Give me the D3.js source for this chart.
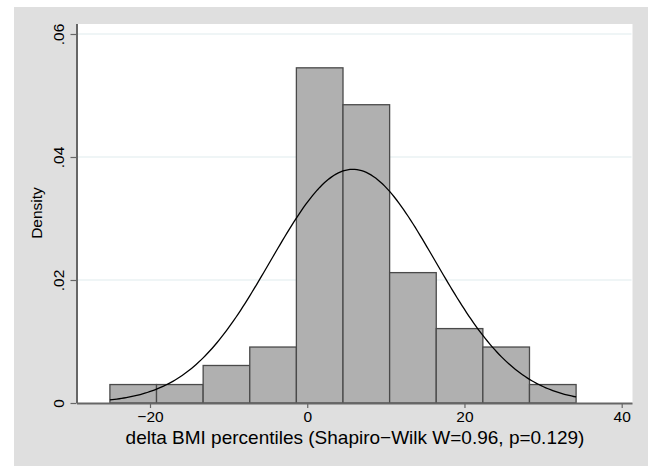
<!DOCTYPE html>
<html><head><meta charset="utf-8">
<script src="https://cdn.jsdelivr.net/npm/d3@7"></script>
<style>body{margin:0;background:#fff}svg{display:block}text{font-family:"Liberation Sans",Arial,sans-serif;fill:#000}</style>
</head><body>
<script>
// Histogram bins (left edges), bin width, density values
const binStart = -25.1;
const binWidth = 5.93;
const densities = [0.0030, 0.0030, 0.0061, 0.0091, 0.0545, 0.0485, 0.0212, 0.0121, 0.0091, 0.0030];
// Normal overlay parameters
const normMean = 5.8;
const normSD = 10.5;
const xTicks = [-20, 0, 20, 40];
const yTicks = [0, 0.02, 0.04, 0.06];
const yTickLabels = ["0", ".02", ".04", ".06"];
const xTitle = "delta BMI percentiles (Shapiro\u2212Wilk W=0.96, p=0.129)";
const yTitle = "Density";

const W = 651, H = 466;
const svg = d3.select("body").append("svg").attr("width", W).attr("height", H);

// outer gray graph region
svg.append("rect").attr("x", 14).attr("y", 7).attr("width", 634).attr("height", 459).attr("fill", "#dfdfdf");
// plot region
const plot = {l: 77, r: 632.5, t: 24, b: 403};
svg.append("rect").attr("x", plot.l).attr("y", plot.t).attr("width", plot.r - plot.l).attr("height", plot.b - plot.t).attr("fill", "#fff");

const x = d3.scaleLinear().domain([-20, 40]).range([150, 621.7]);
const y = d3.scaleLinear().domain([0, 0.06]).range([403, 34]);

// gridlines
svg.append("g").selectAll("line").data(yTicks.filter(d => d > 0)).join("line")
  .attr("x1", plot.l).attr("x2", plot.r - 1).attr("y1", d => y(d)).attr("y2", d => y(d))
  .attr("stroke", "#eaf2f3").attr("stroke-width", 1.5);

// bars
const bins = densities.map((d, i) => ({x0: binStart + i * binWidth, x1: binStart + (i + 1) * binWidth, d}));
svg.append("g").selectAll("rect").data(bins).join("rect")
  .attr("x", b => x(b.x0)).attr("width", b => x(b.x1) - x(b.x0))
  .attr("y", b => y(b.d)).attr("height", b => y(0) - y(b.d))
  .attr("fill", "#b0b0b0").attr("stroke", "#4a4a4a").attr("stroke-width", 1.3);

// normal curve
const xMin = binStart, xMax = binStart + densities.length * binWidth;
const pts = d3.range(0, 201).map(i => {
  const xv = xMin + (xMax - xMin) * i / 200;
  const z = (xv - normMean) / normSD;
  return [xv, Math.exp(-0.5 * z * z) / (normSD * Math.sqrt(2 * Math.PI))];
});
svg.append("path").datum(pts)
  .attr("d", d3.line().x(d => x(d[0])).y(d => y(d[1])))
  .attr("fill", "none").attr("stroke", "#000").attr("stroke-width", 1.3);

// x axis
const xAxis = svg.append("g").attr("transform", `translate(0,${plot.b})`)
  .call(d3.axisBottom(x).tickValues(xTicks).tickSize(5).tickSizeOuter(0)
    .tickFormat(d => d < 0 ? "\u2212" + Math.abs(d) : String(d)));
xAxis.select(".domain").attr("d", `M${plot.l},0.5H${plot.r}`).attr("stroke", "#666").attr("stroke-width", 2);
xAxis.selectAll(".tick line").attr("stroke", "#666").attr("stroke-width", 1.2);
xAxis.selectAll(".tick text").attr("font-size", 15.5).attr("y", 8).attr("font-family", "Liberation Sans, Arial, sans-serif");

// y axis
const yAxis = svg.append("g").attr("transform", `translate(${plot.l - 0.5},0)`)
  .call(d3.axisLeft(y).tickValues(yTicks).tickSize(6).tickSizeOuter(0)
    .tickFormat((d, i) => yTickLabels[i]));
yAxis.select(".domain").attr("d", `M0.5,${plot.t}V${plot.b}`).attr("stroke", "#666").attr("stroke-width", 2);
yAxis.selectAll(".tick line").attr("stroke", "#666").attr("stroke-width", 1.2);
yAxis.selectAll(".tick text")
  .attr("font-size", 15.5).attr("font-family", "Liberation Sans, Arial, sans-serif")
  .attr("x", null).attr("dy", null)
  .attr("text-anchor", "middle")
  .attr("transform", "translate(-13,0) rotate(-90)");

// titles
svg.append("text").attr("x", 355).attr("y", 443.5).attr("text-anchor", "middle")
  .attr("font-size", 19).text(xTitle);
svg.append("text").attr("transform", "translate(42,213) rotate(-90)").attr("text-anchor", "middle")
  .attr("font-size", 15.5).text(yTitle);
</script>
</body></html>
